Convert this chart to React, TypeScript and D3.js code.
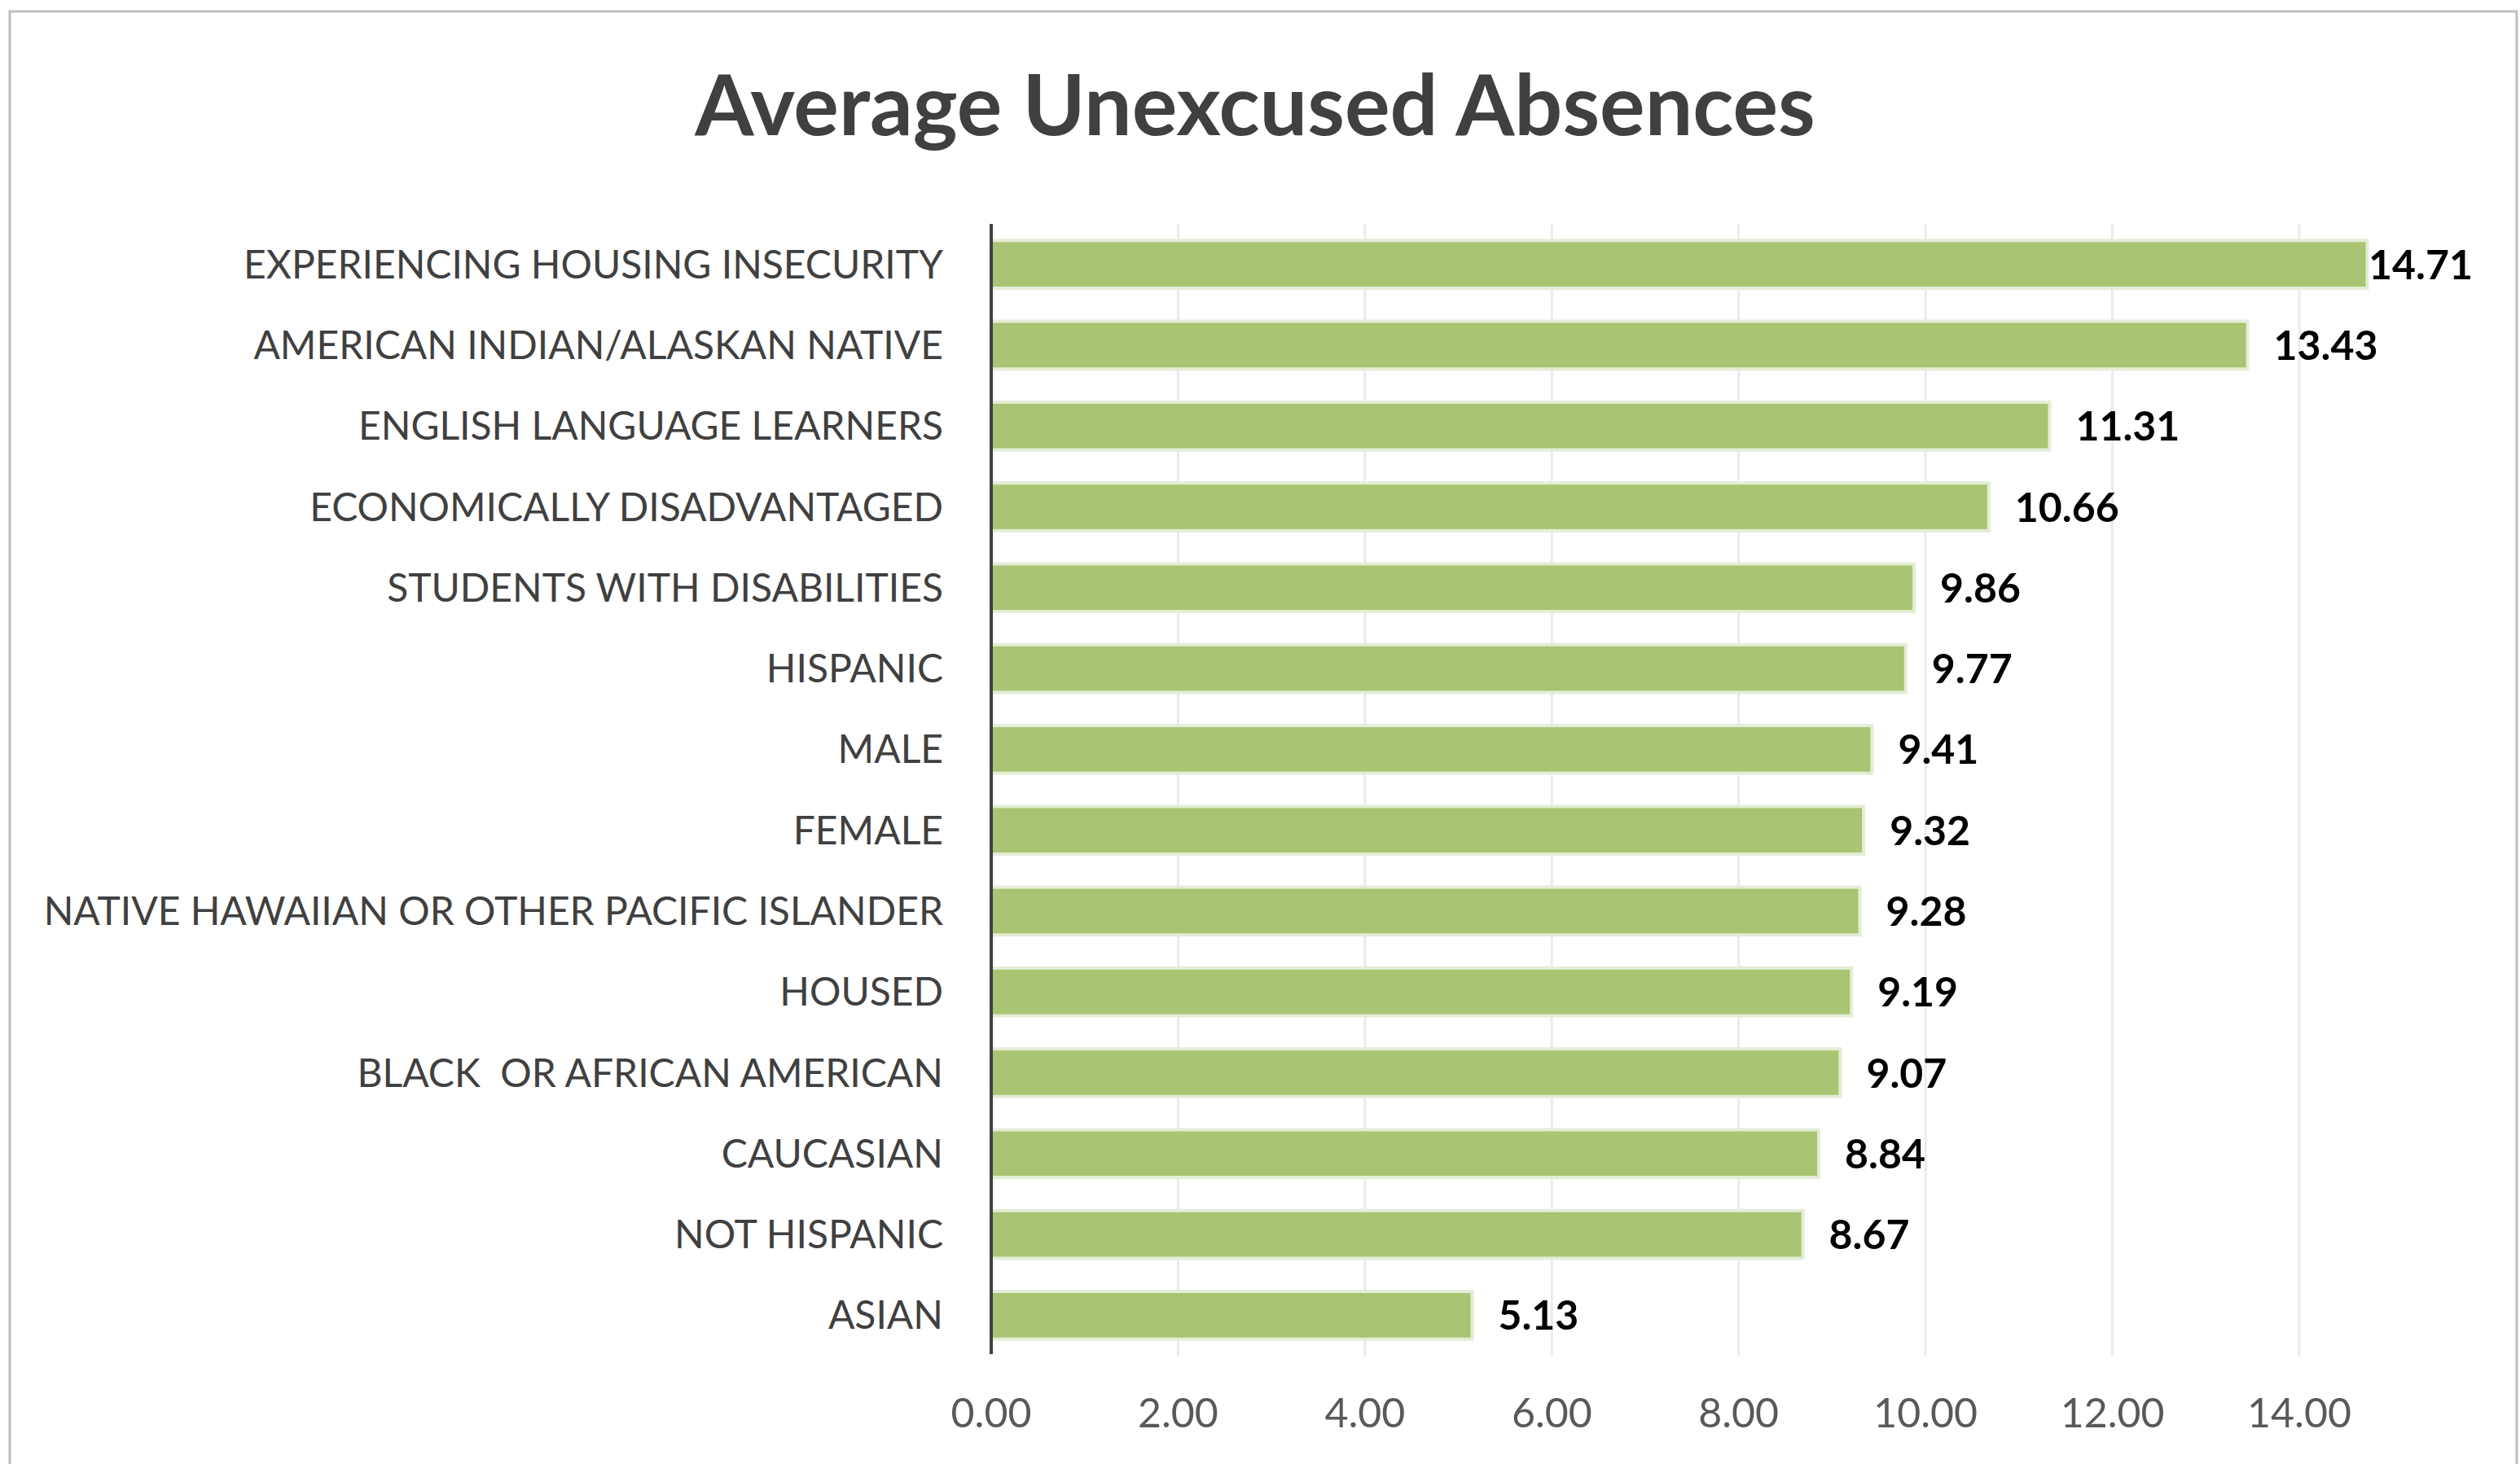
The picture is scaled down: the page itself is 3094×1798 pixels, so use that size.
import React from "react";
import * as d3 from "d3";

const categories: string[] = [
  "EXPERIENCING HOUSING INSECURITY",
  "AMERICAN INDIAN/ALASKAN NATIVE",
  "ENGLISH LANGUAGE LEARNERS",
  "ECONOMICALLY DISADVANTAGED",
  "STUDENTS WITH DISABILITIES",
  "HISPANIC",
  "MALE",
  "FEMALE",
  "NATIVE HAWAIIAN OR OTHER PACIFIC ISLANDER",
  "HOUSED",
  "BLACK  OR AFRICAN AMERICAN",
  "CAUCASIAN",
  "NOT HISPANIC",
  "ASIAN",
];

const values: number[] = [
  14.71, 13.43, 11.31, 10.66, 9.86, 9.77, 9.41, 9.32, 9.28, 9.19, 9.07, 8.84, 8.67, 5.13,
];

const xTicks: number[] = [0, 2, 4, 6, 8, 10, 12, 14];

const title = "Average Unexcused Absences";

const W = 3094;
const H = 1798;
const FONT = "Lato, 'Open Sans', 'Noto Sans', sans-serif";
const LABEL_MAX_X = 2908;

export default function App() {
  const x = d3.scaleLinear().domain([0, 14]).range([1217, 2823]);
  const y = d3
    .scaleBand<string>()
    .domain(categories)
    .range([275, 1665])
    .paddingInner(0.45)
    .paddingOuter(0.225);
  const bw = y.bandwidth();
  const fmt = d3.format(".2f");

  return (
    <svg
      width={W}
      height={H}
      style={{ position: "absolute", left: 0, top: 0, background: "#fff" }}
    >
      <rect x={0} y={0} width={W} height={H} fill="#ffffff" />
      {/* chart frame */}
      <rect x={12} y={14} width={3078} height={H + 20} fill="none" stroke="#BFBFBF" strokeWidth={3} />

      {/* title */}
      <text
        x={1541}
        y={166}
        textAnchor="middle"
        fontFamily={FONT}
        fontWeight={700}
        fontSize={104}
        fill="#404040"
      >
        {title}
      </text>

      {/* gridlines */}
      {xTicks.map((t) => (
        <line
          key={"g" + t}
          x1={x(t)}
          x2={x(t)}
          y1={275}
          y2={1665}
          stroke="#EBEBEB"
          strokeWidth={3}
        />
      ))}

      {/* bars */}
      {categories.map((c, i) => {
        const y0 = y(c)!;
        const x1 = x(values[i]);
        return (
          <g key={c}>
            <rect
              x={x(0)}
              y={y0 - 4}
              width={x1 - x(0) + 4}
              height={bw + 8}
              fill="#E4EDD6"
            />
            <rect x={x(0)} y={y0} width={x1 - x(0)} height={bw} fill="#A9C472" />
          </g>
        );
      })}

      {/* axis line */}
      <line x1={x(0)} x2={x(0)} y1={275} y2={1663} stroke="#404040" strokeWidth={4} />

      {/* category labels */}
      {categories.map((c) => (
        <text
          key={"l" + c}
          x={1158}
          y={y(c)! + bw / 2 + 17}
          textAnchor="end"
          fontFamily={FONT}
          fontSize={48}
          fill="#404040"
          style={{ whiteSpace: "pre" }}
        >
          {c}
        </text>
      ))}

      {/* value labels */}
      {categories.map((c, i) => (
        <text
          key={"v" + c}
          x={Math.min(x(values[i]) + 34, LABEL_MAX_X)}
          y={y(c)! + bw / 2 + 18}
          textAnchor="start"
          fontFamily={FONT}
          fontWeight={700}
          fontSize={50}
          fill="#000000"
        >
          {fmt(values[i])}
        </text>
      ))}

      {/* x tick labels */}
      {xTicks.map((t) => (
        <text
          key={"t" + t}
          x={x(t)}
          y={1753}
          textAnchor="middle"
          fontFamily={FONT}
          fontSize={50}
          fill="#595959"
        >
          {fmt(t)}
        </text>
      ))}
    </svg>
  );
}
